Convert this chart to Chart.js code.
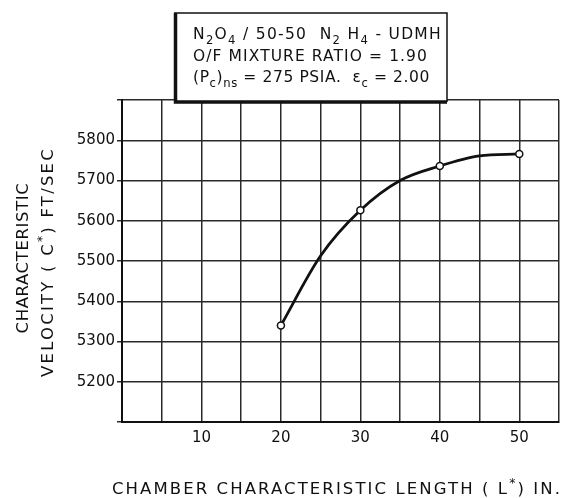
<!DOCTYPE html>
<html>
<head>
<meta charset="utf-8">
<script src="https://cdn.jsdelivr.net/npm/chart.js@4.4.1/dist/chart.umd.min.js"></script>
<style>
  body { margin: 0; background: #fff; }
  #c { display: block; }
</style>
</head>
<body>
<canvas id="c" width="568" height="498"></canvas>
<script>
// test points (circles)
const lengthValues = [20, 30, 40, 50];          // L* (in.)
const cStarValues = [5340, 5626, 5736, 5766];   // c* (ft/sec)
// faired curve, read where it crosses the grid
const curveX = [20, 25, 30, 35, 40, 45, 50];
const curveY = [5340, 5513, 5626, 5700, 5736, 5761, 5766];
const xTickLabels = [10, 20, 30, 40, 50];
const yTickLabels = [5200, 5300, 5400, 5500, 5600, 5700, 5800];

const INK = "#111";
const FONT = "'DejaVu Sans', sans-serif";

// draws a run of text pieces (sub / sup) stretched to a given width
function drawRich(ctx, parts, x, y, size, width, align) {
  let natural = 0, chars = 0;
  parts.forEach(p => {
    const s = p.sub || p.sup ? size * 0.75 : size;
    ctx.font = `${s}px ${FONT}`;
    ctx.letterSpacing = "0px";
    natural += ctx.measureText(p.t).width;
    chars += p.t.length;
  });
  const gap = width ? (width - natural) / chars : 0;
  let cx = align === "center" ? x - (natural + gap * chars) / 2 : x;
  parts.forEach(p => {
    const s = p.sub || p.sup ? size * 0.75 : size;
    ctx.font = `${s}px ${FONT}`;
    ctx.letterSpacing = gap + "px";
    let dy = 0;
    if (p.sub) dy = size * 0.3;
    if (p.sup) dy = -size * 0.42;
    ctx.textAlign = "left";
    ctx.textBaseline = "alphabetic";
    ctx.fillText(p.t, cx, y + dy);
    cx += ctx.measureText(p.t).width;
  });
  ctx.letterSpacing = "0px";
}

const boxLines = [
  [{ t: "N" }, { t: "2", sub: 1 }, { t: "O" }, { t: "4", sub: 1 }, { t: " / 50-50  N" },
   { t: "2", sub: 1 }, { t: " H" }, { t: "4", sub: 1 }, { t: " - UDMH" }],
  [{ t: "O/F MIXTURE RATIO = 1.90" }],
  [{ t: "(P" }, { t: "c", sub: 1 }, { t: ")" }, { t: "ns", sub: 1 }, { t: " = 275 PSIA.  \u03B5" },
   { t: "c", sub: 1 }, { t: " = 2.00" }]
];
const yTitle1 = [{ t: "CHARACTERISTIC" }];
const yTitle2 = [{ t: "VELOCITY ( C" }, { t: "*", sup: 1 }, { t: ") FT/SEC" }];
const xTitle = [{ t: "CHAMBER CHARACTERISTIC LENGTH ( L" }, { t: "*", sup: 1 }, { t: ") IN." }];

const textPlugin = {
  id: "annotations",
  afterDraw(chart) {
    const ctx = chart.ctx;
    ctx.save();

    // condition box
    ctx.fillStyle = "#fff";
    ctx.fillRect(174, 13, 273, 90);
    ctx.strokeStyle = INK;
    ctx.lineWidth = 1.5;
    ctx.beginPath();
    ctx.moveTo(174, 13); ctx.lineTo(447, 13); ctx.lineTo(447, 102);
    ctx.stroke();
    ctx.lineWidth = 3.5;
    ctx.beginPath();
    ctx.moveTo(175.5, 13); ctx.lineTo(175.5, 102); ctx.lineTo(447, 102);
    ctx.stroke();
    ctx.fillStyle = INK;
    drawRich(ctx, boxLines[0], 193, 39, 15.5, 249);
    drawRich(ctx, boxLines[1], 193, 61, 15.5, 235);
    drawRich(ctx, boxLines[2], 193, 82, 15.5, 237);

    // y axis title (two rotated lines)
    ctx.save();
    ctx.translate(28, 258);
    ctx.rotate(-Math.PI / 2);
    drawRich(ctx, yTitle1, 0, 0, 16.5, 151, "center");
    ctx.restore();
    ctx.save();
    ctx.translate(53, 262);
    ctx.rotate(-Math.PI / 2);
    drawRich(ctx, yTitle2, 0, 0, 16.5, 230, "center");
    ctx.restore();

    // x axis title
    drawRich(ctx, xTitle, 112, 494, 16.5, 450);
    ctx.restore();
  }
};

const ctx = document.getElementById("c").getContext("2d");
const chart = new Chart(ctx, {
  type: "line",
  data: {
    datasets: [
      {
        // test points on top
        data: lengthValues.map((x, i) => ({ x: x, y: cStarValues[i] })),
        showLine: false,
        pointRadius: 3.5,
        pointBorderWidth: 1.5,
        pointBackgroundColor: "#fff",
        pointBorderColor: INK,
        order: 0,
      },
      {
        data: curveX.map((x, i) => ({ x: x, y: curveY[i] })),
        borderColor: INK,
        borderWidth: 2.8,
        cubicInterpolationMode: "monotone",
        pointRadius: 0,
        order: 1,
      },
    ],
  },
  options: {
    responsive: false,
    devicePixelRatio: 1,
    animation: false,
    layout: { padding: { left: 0, right: 9, top: 100, bottom: 0 } },
    plugins: { legend: { display: false }, tooltip: { enabled: false } },
    scales: {
      x: {
        type: "linear",
        min: 0,
        max: 55,
        afterFit: (s) => { s.height = 76; },
        border: { color: INK, width: 2 },
        grid: { color: "#2a2a2a", lineWidth: 1.5, drawTicks: false },
        ticks: {
          stepSize: 5,
          padding: 7,
          color: INK,
          font: { family: FONT, size: 15 },
          maxRotation: 0,
          autoSkip: false,
          callback: (v) => (xTickLabels.includes(v) ? String(v) : ""),
        },
      },
      y: {
        type: "linear",
        min: 5100,
        max: 5900,
        afterFit: (s) => { s.width = 122; },
        border: { color: INK, width: 2 },
        grid: { color: "#2a2a2a", lineWidth: 1.5, tickLength: 5 },
        ticks: {
          stepSize: 100,
          padding: 2,
          color: INK,
          font: { family: FONT, size: 15 },
          callback: (v) => (yTickLabels.includes(v) ? String(v) : ""),
        },
      },
    },
  },
  plugins: [textPlugin],
});
</script>
</body>
</html>
